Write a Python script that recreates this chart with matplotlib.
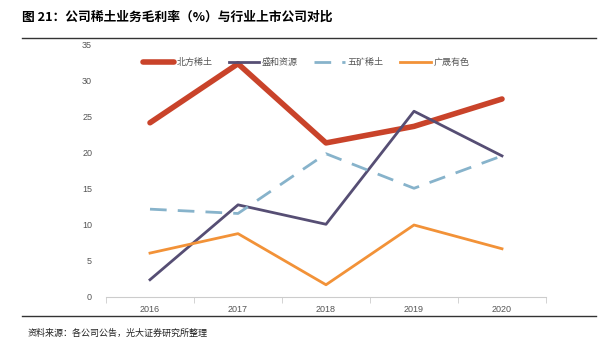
import matplotlib.pyplot as plt
import numpy as np

plt.rcParams['font.family'] = ['Noto Sans CJK SC', 'DejaVu Sans']

years = ['2016', '2017', '2018', '2019', '2020']
beifang = [24.2, 32.4, 21.4, 23.7, 27.5]
shenghe = [2.4, 12.8, 10.1, 25.8, 19.6]
wukuang = [12.2, 11.6, 19.9, 15.1, 19.6]
guangsheng = [6.1, 8.8, 1.7, 10.0, 6.7]

fig = plt.figure(figsize=(6.14, 3.5), dpi=100)
ax = fig.add_axes([106 / 614, 1 - 297 / 350, 440 / 614, 252 / 350])

x = np.arange(len(years))
ax.plot(x, beifang, color='#C9432A', lw=4, label='北方稀土', solid_capstyle='round')
ax.plot(x, shenghe, color='#564E74', lw=2, label='盛和资源')
ax.plot(x, wukuang, color='#87B3CB', lw=2, ls=(0, (6, 4)), label='五矿稀土')
ax.plot(x, guangsheng, color='#F29238', lw=2, label='广晟有色')

ax.set_xlim(-0.5, len(years) - 0.5)
ax.set_ylim(0, 35)
ax.set_yticks(range(0, 36, 5))
ax.set_xticks(x)
ax.set_xticklabels(years)
ax.set_xticks(np.arange(-0.5, len(years), 1), minor=True)
ax.tick_params(axis='x', which='major', length=0, pad=6, labelsize=6.5, labelcolor='#555555')
ax.tick_params(axis='x', which='minor', length=4, color='#CCCCCC', direction='out')
ax.tick_params(axis='y', length=0, pad=10, labelsize=6.5, labelcolor='#555555')
for lbl in ax.get_xticklabels() + ax.get_yticklabels():
    lbl.set_family('Liberation Sans')
for s in ['top', 'right', 'left']:
    ax.spines[s].set_visible(False)
ax.spines['bottom'].set_color('#CCCCCC')

leg = ax.legend(loc='upper center', bbox_to_anchor=(0.455, 0.98), ncol=4, frameon=False,
                fontsize=6.5, handlelength=3.4, handletextpad=0.3, columnspacing=1.8)
for t in leg.get_texts():
    t.set_color('#555555')

fig.text(22 / 614, 1 - 17 / 350, '图 21：公司稀土业务毛利率（%）与行业上市公司对比',
         fontsize=9.2, fontweight='bold', va='center', ha='left')
fig.add_artist(plt.Line2D([22 / 614, 596 / 614], [1 - 38 / 350, 1 - 38 / 350], color='#333333', lw=1))
fig.add_artist(plt.Line2D([22 / 614, 596 / 614], [1 - 316 / 350, 1 - 316 / 350], color='#333333', lw=1))
fig.text(28 / 614, 1 - 333 / 350, '资料来源：各公司公告，光大证券研究所整理',
         fontsize=6.5, va='center', ha='left', color='#222222')

fig.savefig('out.png', dpi=100)
